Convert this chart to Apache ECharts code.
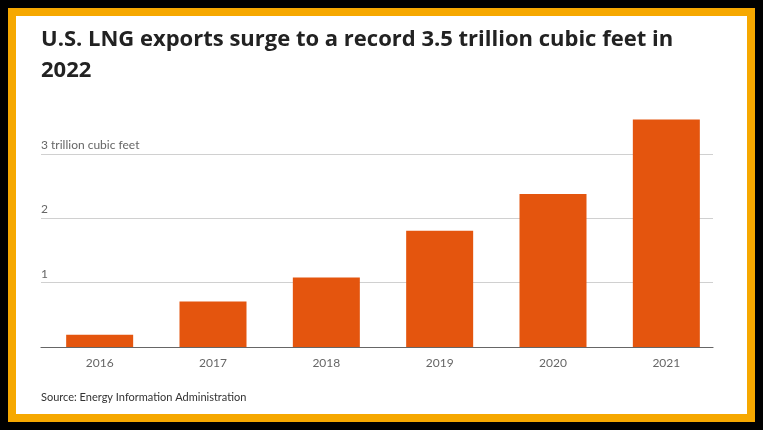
<!DOCTYPE html>
<html>

<head>
    <meta charset="utf-8">
    <title>ECharts</title>
    <script src="https://cdn.jsdelivr.net/npm/echarts@6/dist/echarts.min.js"></script>
    <style>
        html, body { margin: 0; padding: 0; background: #000; }
        #frame {
            position: absolute; left: 8px; top: 8px; width: 747px; height: 414px;
            box-sizing: border-box; border: 8px solid #F6A800; background: #fff;
        }
        #main { position: absolute; left: 0; top: 0; width: 763px; height: 430px; }
    </style>
</head>

<body>
    <div id="frame"></div>
    <div id="main"></div>
    <script type="text/javascript">
        // data
        var years = ['2016', '2017', '2018', '2019', '2020', '2021'];
        var exportsTcf = [0.19, 0.71, 1.08, 1.81, 2.38, 3.54];
        var yTicks = [0, 1, 2, 3];

        var font = 'Lato';
        var chartDom = document.getElementById('main');
        var myChart = echarts.init(chartDom);
        var option;

        option = {
            animation: false,
            title: [{
                text: 'U.S. LNG exports surge to a record 3.5 trillion cubic feet in\n2022',
                left: 41,
                top: 24,
                padding: 0,
                textStyle: {
                    fontFamily: 'Open Sans',
                    fontWeight: 'bold',
                    fontSize: 22,
                    lineHeight: 31,
                    color: '#222'
                }
            }, {
                text: 'Source: Energy Information Administration',
                left: 41,
                top: 390,
                padding: 0,
                textStyle: {
                    fontFamily: font,
                    fontWeight: 'normal',
                    fontSize: 11,
                    lineHeight: 14,
                    color: '#333'
                }
            }],
            grid: [
                // gridlines + baseline
                { left: 41, width: 672, top: 154, height: 193 },
                // bars
                { left: 43, width: 680, top: 90, height: 257 }
            ],
            xAxis: [{
                gridIndex: 0,
                type: 'value',
                min: 0,
                max: 1,
                axisLine: { show: true, onZero: false, lineStyle: { color: '#666', width: 1.2 } },
                axisTick: { show: false },
                axisLabel: { show: false },
                splitLine: { show: false }
            }, {
                gridIndex: 1,
                type: 'category',
                data: years,
                axisLine: { show: false },
                axisTick: { show: false },
                axisLabel: {
                    fontFamily: font,
                    fontSize: 12,
                    color: '#666',
                    margin: 10
                }
            }],
            yAxis: [{
                gridIndex: 0,
                type: 'value',
                min: yTicks[0],
                max: yTicks[yTicks.length - 1],
                interval: 1,
                axisLine: { show: false },
                axisTick: { show: false },
                splitLine: { lineStyle: { color: '#d0d0d0', width: 1 } },
                axisLabel: {
                    inside: true,
                    margin: 0,
                    verticalAlign: 'bottom',
                    padding: [0, 0, 3, 0],
                    fontFamily: font,
                    fontSize: 12,
                    color: '#666',
                    formatter: function (v) {
                        if (v === 0) return '';
                        return v === 3 ? '3 trillion cubic feet' : String(v);
                    }
                }
            }, {
                gridIndex: 1,
                type: 'value',
                min: 0,
                max: 4,
                show: false,
                splitLine: { show: false }
            }],
            series: [{
                type: 'bar',
                xAxisIndex: 1,
                yAxisIndex: 1,
                data: exportsTcf,
                barWidth: 67,
                itemStyle: { color: '#E4550E' }
            }]
        };

        option && myChart.setOption(option);
    </script>
</body>

</html>
